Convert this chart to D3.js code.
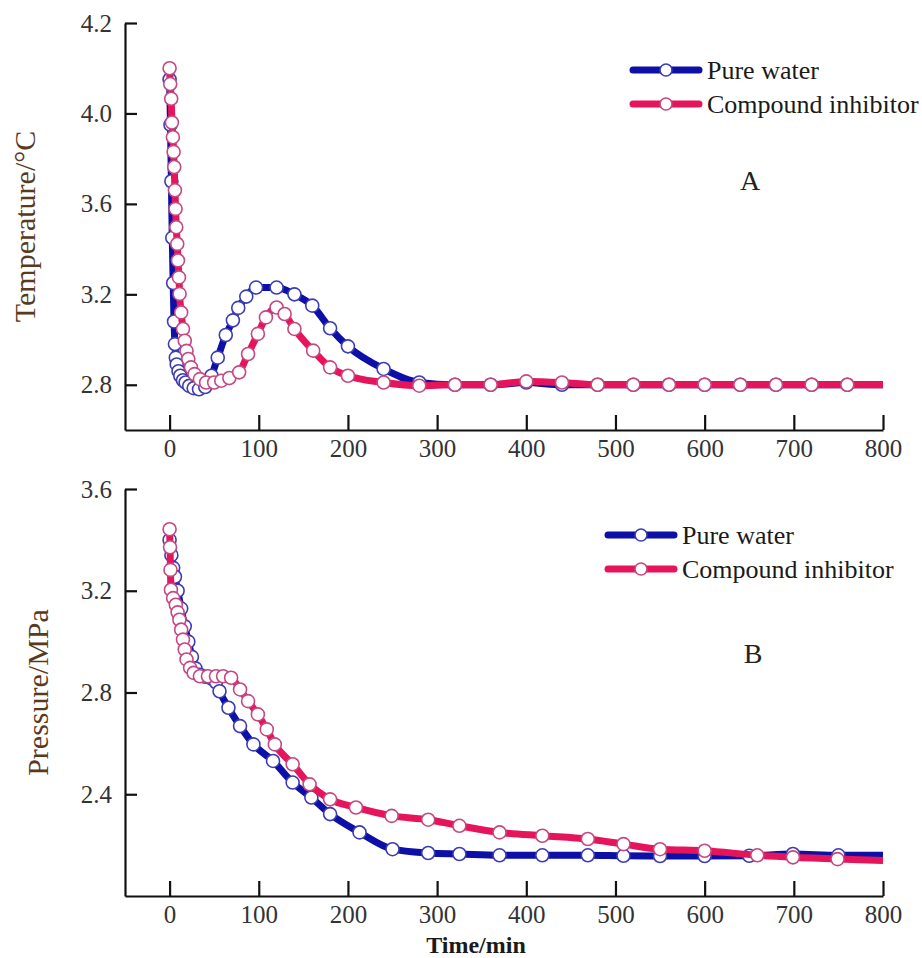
<!DOCTYPE html>
<html>
<head>
<meta charset="utf-8">
<script src="https://cdn.jsdelivr.net/npm/d3@7"></script>
<style>
  body { margin: 0; background: #fff; }
  svg text { font-family: "Liberation Serif", "Times New Roman", serif; }
</style>
</head>
<body>
<div id="chart"></div>
<script>
// ---- data ----
const seriesNames = ["Pure water", "Compound inhibitor"];

// A: temperature
const tempTimeWater = [0, 1, 2, 3, 4, 5, 6, 7, 8, 10, 12, 15, 18, 22, 27, 33, 40, 47, 54, 63, 71, 77, 86, 97, 120, 140, 160, 180, 200, 240, 280, 320, 360, 400, 440, 480, 520, 560, 600, 640, 680, 720, 760, 800];
const tempWater = [4.15, 3.95, 3.70, 3.45, 3.25, 3.08, 2.98, 2.92, 2.89, 2.86, 2.84, 2.82, 2.81, 2.795, 2.785, 2.78, 2.79, 2.84, 2.92, 3.02, 3.085, 3.14, 3.19, 3.23, 3.23, 3.20, 3.15, 3.05, 2.97, 2.87, 2.81, 2.80, 2.80, 2.81, 2.80, 2.80, 2.80, 2.80, 2.80, 2.80, 2.80, 2.80, 2.80, 2.80];
const tempTimeInh = [0, 0.7, 1.8, 2.6, 3.7, 4.5, 5.2, 6, 6.7, 7.5, 8.6, 9.4, 10.5, 11.2, 13, 15, 17, 19, 21, 24, 28, 34, 41, 50, 58, 67, 78, 88, 99, 108, 120, 129, 140, 161, 180, 200, 240, 280, 320, 360, 400, 440, 480, 520, 560, 600, 640, 680, 720, 760, 800];
const tempInhibitor = [4.20, 4.13, 4.065, 3.96, 3.895, 3.83, 3.763, 3.66, 3.578, 3.497, 3.423, 3.35, 3.275, 3.202, 3.12, 3.047, 2.995, 2.95, 2.914, 2.877, 2.847, 2.825, 2.81, 2.81, 2.818, 2.83, 2.855, 2.936, 3.025, 3.098, 3.142, 3.113, 3.047, 2.951, 2.877, 2.84, 2.81, 2.796, 2.80, 2.80, 2.815, 2.81, 2.80, 2.80, 2.80, 2.80, 2.80, 2.80, 2.80, 2.80, 2.80];

// B: pressure
const presTimeWater = [0, 2, 4, 6, 9, 13, 17, 21, 25, 29, 34, 40, 47, 52, 56, 66, 79, 94, 116, 138, 159, 180, 213, 250, 290, 325, 370, 418, 469, 509, 550, 600, 650, 699, 750, 800];
const presWater = [3.40, 3.34, 3.29, 3.255, 3.20, 3.13, 3.06, 3.00, 2.94, 2.895, 2.87, 2.862, 2.855, 2.84, 2.805, 2.74, 2.668, 2.596, 2.531, 2.446, 2.387, 2.322, 2.25, 2.184, 2.169, 2.165, 2.16, 2.16, 2.16, 2.158, 2.157, 2.157, 2.158, 2.165, 2.16, 2.16];
const presTimeInh = [0, 0.5, 1, 1.5, 4, 7, 9, 11, 13, 15, 17, 19, 23, 27, 34, 43, 52, 60, 69, 79, 88, 99, 109, 118, 138, 157, 180, 209, 249, 290, 325, 370, 418, 469, 509, 550, 600, 659, 699, 749, 800];
const presInhibitor = [3.442, 3.371, 3.282, 3.204, 3.171, 3.145, 3.115, 3.086, 3.047, 3.008, 2.969, 2.93, 2.897, 2.877, 2.864, 2.864, 2.864, 2.864, 2.858, 2.812, 2.766, 2.714, 2.655, 2.596, 2.518, 2.439, 2.38, 2.348, 2.315, 2.30, 2.276, 2.25, 2.237, 2.224, 2.204, 2.184, 2.178, 2.16, 2.152, 2.145, 2.14];

// ticks (top label of panel A is printed "4.2" in the original)
const xTicks = [0, 100, 200, 300, 400, 500, 600, 700, 800];
const tempTicks = [2.8, 3.2, 3.6, 4.0, 4.4];
const tempTickLabels = ["2.8", "3.2", "3.6", "4.0", "4.2"];
const presTicks = [2.4, 2.8, 3.2, 3.6];
const presTickLabels = ["2.4", "2.8", "3.2", "3.6"];

let w = 922;
let h = 958;
const serif = "Liberation Serif, Times New Roman, serif";
const blue = "#0d10a6";
const pink = "#e6145a";
const colors = [blue, pink];
const markerStroke = ["#3c3cb4", "#c54883"];

const svg = d3.select("#chart").
append("svg").
attr("width", w).
attr("height", h).
attr("font-family", serif);

const zip = (ts, vs) => ts.map((t, i) => ({ t: t, v: vs[i] }));

const panels = [
{
  top: 23, bottom: 430, yDomain: [2.6, 4.4],
  ticks: tempTicks, tickLabels: tempTickLabels,
  series: [zip(tempTimeWater, tempWater), zip(tempTimeInh, tempInhibitor)],
  yLabel: "Temperature/°C", yLabelX: 35,
  letter: "A", letterX: 750, letterY: 190,
  legendX: 633, legendY: 70
},
{
  top: 489, bottom: 896, yDomain: [2.0, 3.6],
  ticks: presTicks, tickLabels: presTickLabels,
  series: [zip(presTimeWater, presWater), zip(presTimeInh, presInhibitor)],
  yLabel: "Pressure/MPa", yLabelX: 48,
  letter: "B", letterX: 753, letterY: 663,
  legendX: 608, legendY: 535
}];


panels.forEach(p => {
  const xScale = d3.scaleLinear().domain([-50, 800]).range([125, 883]);
  const yScale = d3.scaleLinear().domain(p.yDomain).range([p.bottom, p.top]);

  //axes, ticks pointing inwards
  const xAxis = d3.axisBottom(xScale).tickValues(xTicks).tickSizeInner(-15).tickSizeOuter(0).tickPadding(9);
  const yAxis = d3.axisLeft(yScale).tickValues(p.ticks).tickSizeInner(-12).tickSizeOuter(0).tickPadding(13).
  tickFormat((d, i) => p.tickLabels[i]);

  const gx = svg.append("g").attr("transform", "translate(0," + p.bottom + ")").call(xAxis);
  const gy = svg.append("g").attr("transform", "translate(125,0)").call(yAxis);
  [gx, gy].forEach(g => {
    g.attr("font-family", serif).attr("font-size", 25);
    g.select(".domain").attr("stroke", "#111").attr("stroke-width", 2.2);
    g.selectAll(".tick line").attr("stroke", "#111").attr("stroke-width", 2.2);
    g.selectAll(".tick text").attr("fill", "#333");
  });

  //y label
  svg.append("text").
  attr("transform", "translate(" + p.yLabelX + "," + (p.top + p.bottom) / 2 + ") rotate(-90)").
  attr("text-anchor", "middle").
  attr("fill", "#5a3a1c").
  attr("font-size", 30).
  text(p.yLabel);

  //panel letter
  svg.append("text").
  attr("x", p.letterX).
  attr("y", p.letterY).
  attr("text-anchor", "middle").
  attr("fill", "#222").
  attr("font-size", 28).
  text(p.letter);

  const line = d3.line().
  x(d => xScale(d.t)).
  y(d => yScale(d.v)).
  curve(d3.curveMonotoneX);

  p.series.forEach((data, k) => {
    svg.append("path").
    datum(data).
    attr("d", line).
    attr("fill", "none").
    attr("stroke", colors[k]).
    attr("stroke-width", 7).
    attr("stroke-linejoin", "round");

    svg.append("g").selectAll("circle").
    data(data.filter(d => d.t < 800)).
    enter().
    append("circle").
    attr("cx", d => xScale(d.t)).
    attr("cy", d => yScale(d.v)).
    attr("r", 6.5).
    attr("fill", "#fff").
    attr("stroke", markerStroke[k]).
    attr("stroke-width", 1.6);
  });

  //legend
  seriesNames.forEach((name, k) => {
    let ly = p.legendY + k * 34;
    svg.append("line").
    attr("x1", p.legendX).
    attr("x2", p.legendX + 66).
    attr("y1", ly).
    attr("y2", ly).
    attr("stroke", colors[k]).
    attr("stroke-width", 7).
    attr("stroke-linecap", "round");
    svg.append("circle").
    attr("cx", p.legendX + 33).
    attr("cy", ly).
    attr("r", 6).
    attr("fill", "#fff").
    attr("stroke", markerStroke[k]).
    attr("stroke-width", 1.6);
    svg.append("text").
    attr("x", p.legendX + 74).
    attr("y", ly + 9).
    attr("fill", "#1a1a1a").
    attr("font-size", 26).
    text(name);
  });
});

//x label only under the lower panel
svg.append("text").
attr("x", 476).
attr("y", 953).
attr("text-anchor", "middle").
attr("fill", "#1a1a1a").
attr("font-size", 24).
attr("font-weight", "bold").
text("Time/min");
</script>
</body>
</html>
